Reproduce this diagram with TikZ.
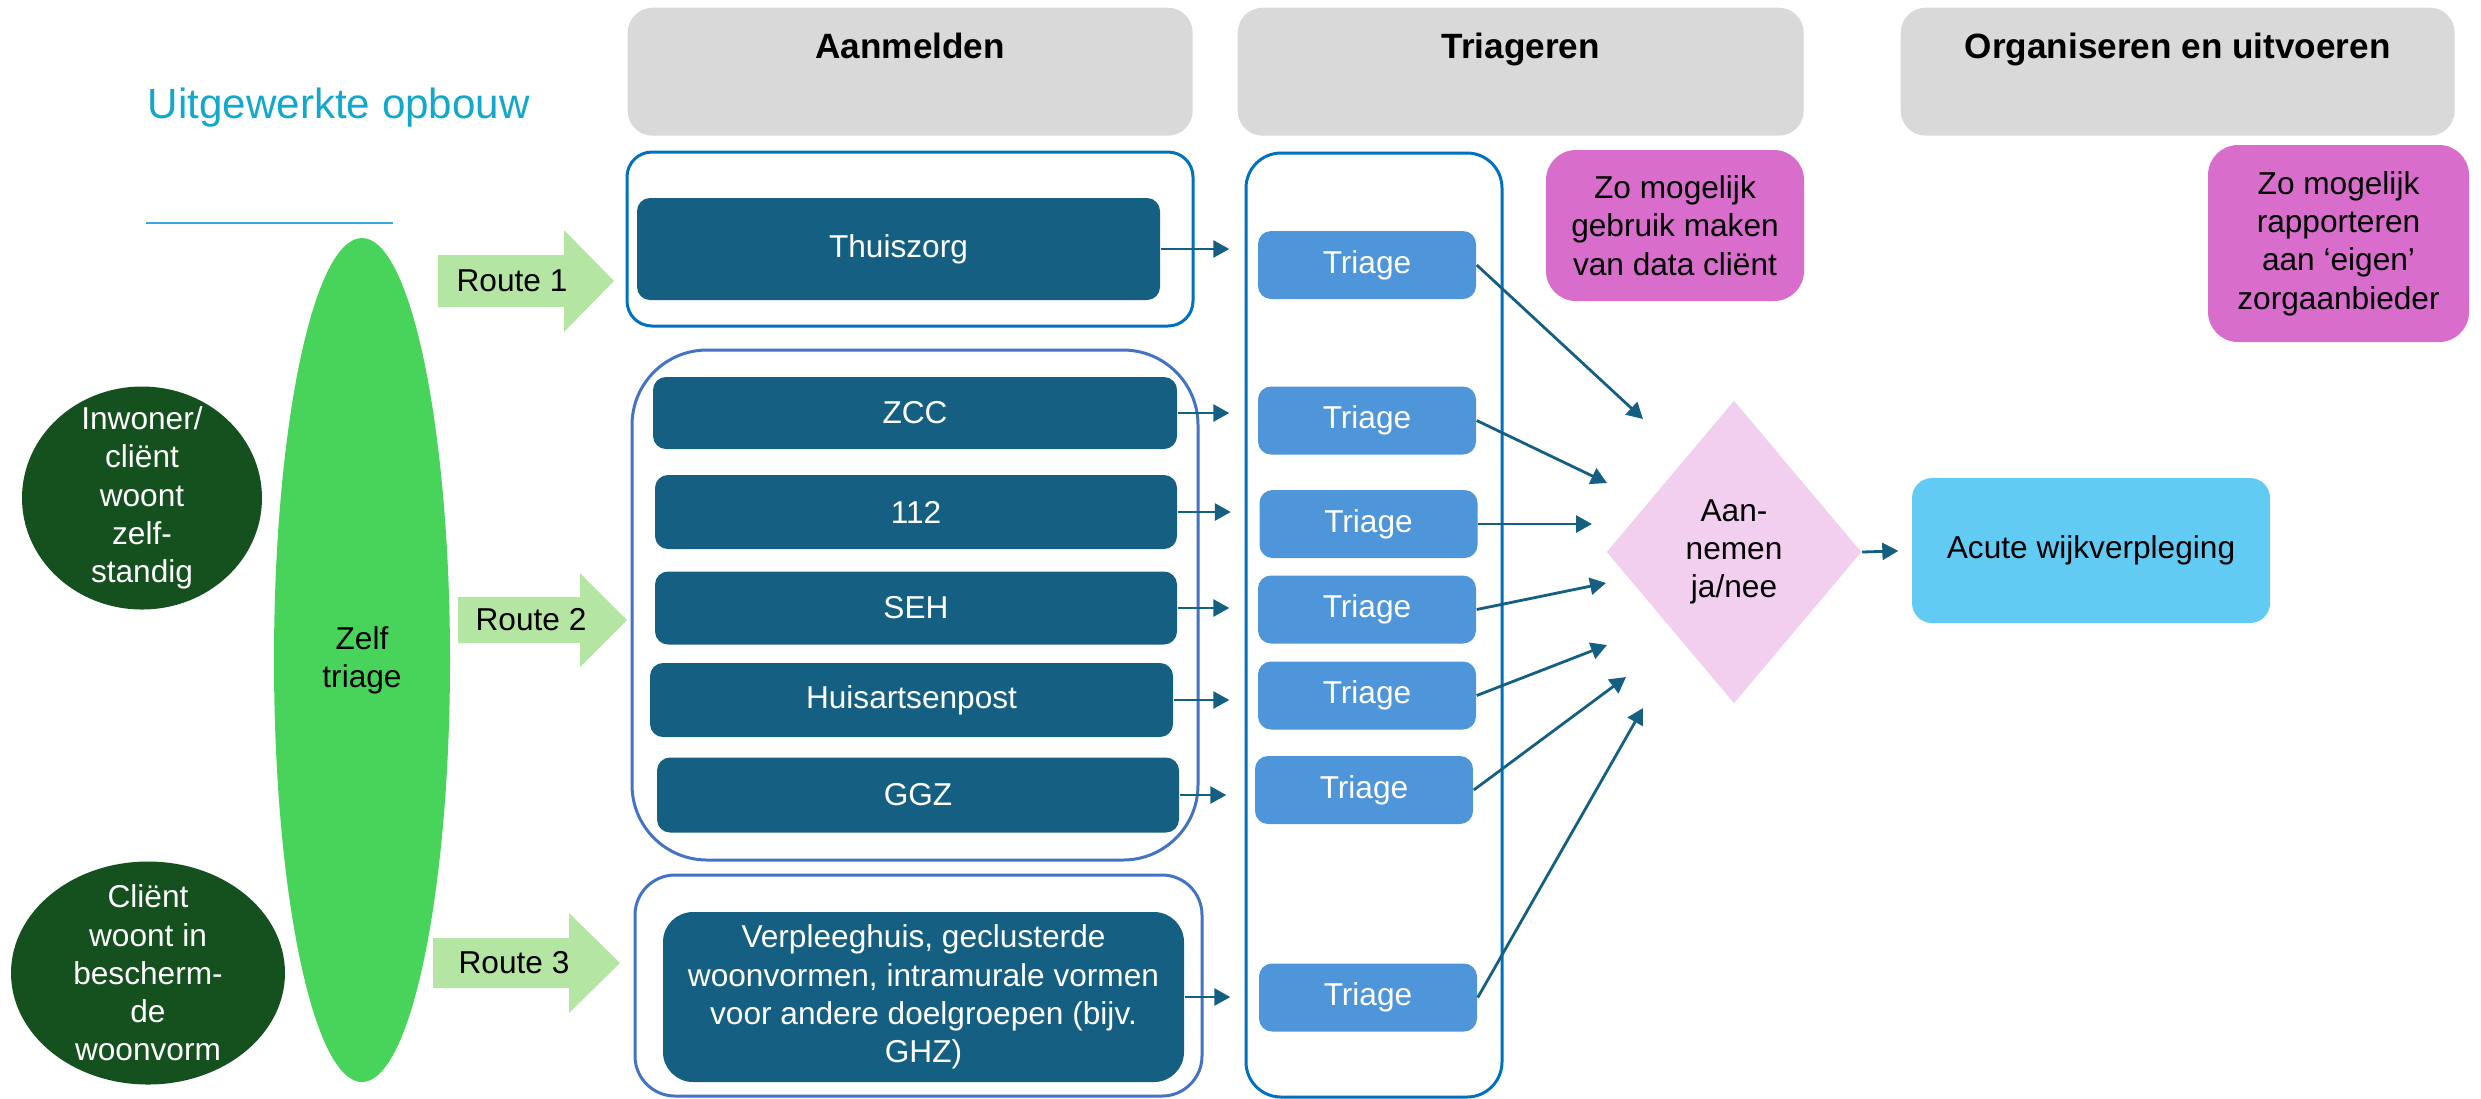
\documentclass[tikz,border=0pt]{standalone}
\usepackage{fontspec}
\setmainfont{Liberation Sans}
\usetikzlibrary{shapes.geometric,arrows.meta,positioning}

\definecolor{hdrgrey}{RGB}{217,217,217}
\definecolor{boxblue}{RGB}{21,96,130}
\definecolor{triblue}{RGB}{78,149,217}
\definecolor{lineblue}{RGB}{0,112,192}
\definecolor{groupblue}{RGB}{68,114,196}
\definecolor{pinkfill}{RGB}{216,109,204}
\definecolor{pinklight}{RGB}{242,206,239}
\definecolor{acuteblue}{RGB}{97,203,243}
\definecolor{darkgreen}{RGB}{21,81,30}
\definecolor{brightgreen}{RGB}{72,212,90}
\definecolor{routegreen}{RGB}{180,229,162}
\definecolor{titlecyan}{RGB}{17,168,204}
\definecolor{ruleblue}{RGB}{60,165,220}

\tikzset{
  txt/.style={font=\fontsize{9pt}{10.9pt}\selectfont, align=center, inner sep=0pt},
  hdr/.style={fill=hdrgrey, rounded corners=2.5mm, anchor=north west, minimum width=#1,
    font=\fontsize{10pt}{12pt}\selectfont\bfseries, text height=2.5mm, text depth=5.1mm, inner ysep=2.6mm},
  grp/.style={draw=#1, line width=0.85pt},
  darkbox/.style={txt, fill=boxblue, text=white, rounded corners=1.3mm},
  tribox/.style={txt, fill=triblue, text=white, rounded corners=1.3mm, minimum width=21.8mm, minimum height=6.8mm},
  notebox/.style={txt, fill=pinkfill, rounded corners=3mm},
  person/.style={ellipse, fill=darkgreen},
  conn/.style={draw=boxblue, line width=0.8pt, -{Triangle[length=1.6mm,width=1.7mm]}}
}

\begin{document}
\begin{tikzpicture}[x=0.1mm, y=-0.1mm]
    \useasboundingbox (0,0) rectangle (2481,1098);

    \node[anchor=base west, text=titlecyan, font=\fontsize{12pt}{14pt}\selectfont, inner sep=0pt] (title) at (147,118) {Uitgewerkte opbouw};
    \draw[ruleblue, line width=0.6pt] (146,223) -- (393,223);

    \node[hdr=56.5mm] (hdrA) at (627,7) {Aanmelden};
    \node[hdr=56.6mm] (hdrB) at (1237,7) {Triageren};
    \node[hdr=55.4mm] (hdrC) at (1900,7) {Organiseren en uitvoeren};

    \node[person, minimum width=24mm, minimum height=22.3mm] (inw) at (142,498) {};
    \node[txt, text=white] (inwtxt) at (inw) {Inwoner/\\cliënt\\woont\\zelf-\\standig};
    \node[person, minimum width=27.4mm, minimum height=22.3mm] (clnt) at (148,973) {};
    \node[txt, text=white] (clnttxt) at (clnt) {Cliënt\\woont in\\bescherm-\\de\\woonvorm};

    \node[txt, ellipse, fill=brightgreen, minimum width=17.6mm, minimum height=84.4mm] (zelf) at (362,660) {Zelf\\triage};

    \foreach \n/\xl/\xn/\xt/\yc/\bh/\hh/\lx in {1/438/564/614/281/26/51/512, 2/458/580/627/620/23/47/531, 3/433/569/620/963/25/50/514}
    {
        \fill[routegreen] ({\xl},{\yc-\bh}) -- ({\xn},{\yc-\bh}) -- ({\xn},{\yc-\hh}) -- ({\xt},{\yc})
            -- ({\xn},{\yc+\hh}) -- ({\xn},{\yc+\bh}) -- ({\xl},{\yc+\bh}) -- cycle;
        \node[txt] (route\n) at (\lx,\yc) {Route \n};
    }

    \node[grp=lineblue, rounded corners=2.5mm, minimum width=56.6mm, minimum height=17.4mm] (grpA) at (910,239) {};
    \node[grp=groupblue, rounded corners=7.5mm, minimum width=56.6mm, minimum height=51mm] (grpB) at (915,605) {};
    \node[grp=groupblue, rounded corners=4mm, minimum width=56.7mm, minimum height=22.1mm] (grpC) at (918.5,985.5) {};

    \node[darkbox, minimum width=52.3mm, minimum height=10.2mm] (thuis) at (898.5,249) {Thuiszorg};
    \node[darkbox, minimum width=52.4mm, minimum height=7.2mm] (zcc) at (915,413) {ZCC};
    \node[darkbox, minimum width=52.2mm, minimum height=7.4mm] (alarm) at (916,512) {112};
    \node[darkbox, minimum width=52.2mm, minimum height=7.3mm] (seh) at (916,608) {SEH};
    \node[darkbox, minimum width=52.3mm, minimum height=7.4mm] (hap) at (911.5,700) {Huisartsenpost};
    \node[darkbox, minimum width=52.2mm, minimum height=7.5mm] (ggz) at (918,795) {GGZ};
    \node[darkbox, rounded corners=3mm, minimum width=52.1mm, minimum height=17mm] (vph) at (923.5,997)
        {Verpleeghuis, geclusterde\\woonvormen, intramurale vormen\\voor andere doelgroepen (bijv.\\GHZ)};

    \node[grp=lineblue, rounded corners=3.5mm, minimum width=25.6mm, minimum height=94.4mm] (trcol) at (1374,625) {};
    \node[tribox] (trA) at (1367,265) {Triage};
    \node[tribox] (trB) at (1367,420.5) {Triage};
    \node[tribox] (trC) at (1368.5,524) {Triage};
    \node[tribox] (trD) at (1367,609.5) {Triage};
    \node[tribox] (trE) at (1367,695.5) {Triage};
    \node[tribox] (trF) at (1364,790) {Triage};
    \node[tribox] (trG) at (1368,997.5) {Triage};

    \node[notebox, minimum width=25.8mm, minimum height=15.1mm] (datanote) at (1675,225.5) {Zo mogelijk\\gebruik maken\\van data cliënt};
    \node[notebox, minimum width=26.1mm, minimum height=19.7mm] (rapnote) at (2338.5,243.5) {Zo mogelijk\\rapporteren\\aan ‘eigen’\\zorgaanbieder};

    \node[txt, diamond, fill=pinklight, minimum width=25.5mm, minimum height=30.3mm] (dia) at (1734,552) {Aan-\\nemen\\ja/nee};
    \node[txt, fill=acuteblue, rounded corners=2mm, minimum width=35.8mm, minimum height=14.5mm] (acute) at (2091,550.5) {Acute wijkverpleging};

    \foreach \src/\dst in {thuis/trA, zcc/trB, alarm/trC, seh/trD, hap/trE, ggz/trF, vph/trG}
        \draw[conn, shorten >=2.8mm] (\src.east) -- (\src.east -| \dst.west);

    \coordinate (inA) at (1643,419);
    \coordinate (inB) at (1607,483);
    \coordinate (inC) at (1592,524);
    \coordinate (inD) at (1606,583);
    \coordinate (inE) at (1607,645);
    \coordinate (inF) at (1626,677);
    \coordinate (inG) at (1643,708);
    \foreach \t in {A,B,C,D,E,F,G}
        \draw[conn] (tr\t.east) -- (in\t);

    \draw[conn, shorten >=1.3mm] (dia.east) -- (acute.west);
\end{tikzpicture}
\end{document}
